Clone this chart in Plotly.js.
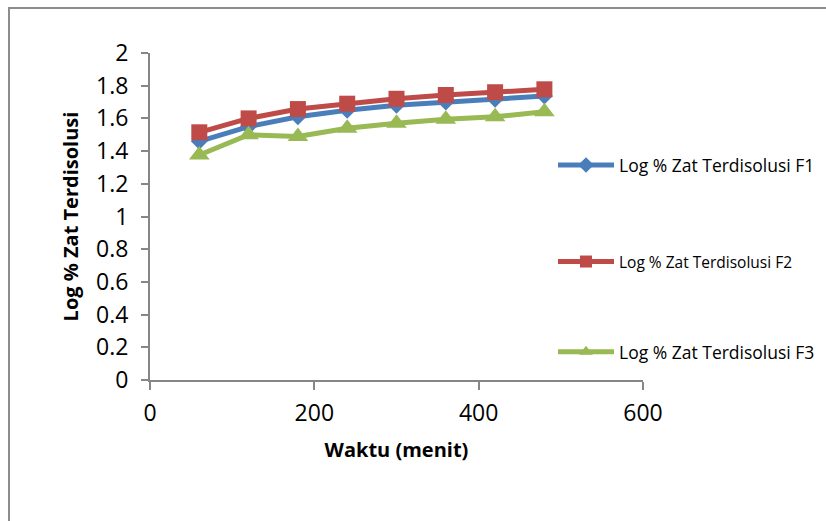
<!DOCTYPE html>
<html>
<head>
<meta charset="utf-8">
<script src="https://cdn.plot.ly/plotly-3.0.1.min.js"></script>
<style>
html,body{margin:0;padding:0;overflow:hidden;background:#fff;}
#wrap{position:relative;width:826px;height:521px;overflow:hidden;}
#chart{position:absolute;left:0;top:0;width:826px;height:521px;}
#frame{position:absolute;left:8px;top:7px;width:900px;height:600px;border:2px solid #8c8c8c;pointer-events:none;box-sizing:border-box;}
</style>
</head>
<body>
<div id="wrap"><div id="chart"></div><div id="frame"></div></div>
<script>
const waktu = [60, 120, 180, 240, 300, 360, 420, 480];
const logF1 = [1.46, 1.55, 1.61, 1.65, 1.68, 1.70, 1.717, 1.737];
const logF2 = [1.515, 1.60, 1.657, 1.69, 1.72, 1.743, 1.76, 1.778];
const logF3 = [1.376, 1.50, 1.49, 1.54, 1.57, 1.595, 1.61, 1.64];
const seriesNames = ["Log % Zat Terdisolusi F1", "Log % Zat Terdisolusi F2", "Log % Zat Terdisolusi F3"];
const xTicks = [0, 200, 400, 600];
const yTicks = [0, 0.2, 0.4, 0.6, 0.8, 1, 1.2, 1.4, 1.6, 1.8, 2];

const font = "Open Sans, Liberation Sans, sans-serif";
const traces = [
  {x: waktu, y: logF1, name: seriesNames[0], mode: "lines+markers", legend: "legend",
   line: {color: "#4A7EBB", width: 5}, marker: {symbol: "diamond", size: 13, color: "#4A7EBB"}},
  {x: waktu, y: logF2, name: seriesNames[1], mode: "lines+markers", legend: "legend2",
   line: {color: "#BE4B48", width: 5}, marker: {symbol: "square", size: 16, color: "#BE4B48"}},
  {x: waktu, y: logF3, name: seriesNames[2], mode: "lines+markers", legend: "legend3",
   line: {color: "#98B954", width: 5}, marker: {symbol: "triangle-up", size: 18, color: "#98B954"}}
];

const legBase = {xanchor: "left", yanchor: "middle", bgcolor: "rgba(0,0,0,0)", borderwidth: 0,
  itemsizing: "constant", tracegroupgap: 0, itemwidth: 56};
const legX = (553 - 150) / 493;

const layout = {
  width: 826, height: 521,
  margin: {l: 150, r: 183, t: 53, b: 141, autoexpand: false},
  paper_bgcolor: "#fff", plot_bgcolor: "#fff",
  showlegend: true,
  xaxis: {range: [0, 600], tickvals: xTicks, ticktext: xTicks.map(String),
    showgrid: false, zeroline: false, showline: true, linecolor: "#868686", linewidth: 2,
    ticks: "outside", ticklen: 8, tickwidth: 2, tickcolor: "#868686", ticklabelstandoff: 3,
    tickfont: {family: font, size: 23, color: "#000"},
    title: {text: "<b>Waktu (menit)</b>", font: {family: font, size: 20, color: "#000"}, standoff: 16}},
  yaxis: {range: [0, 2], tickvals: yTicks, ticktext: yTicks.map(String),
    showgrid: false, zeroline: false, showline: true, linecolor: "#868686", linewidth: 2,
    ticks: "outside", ticklen: 7, tickwidth: 2, tickcolor: "#868686", ticklabelstandoff: 8,
    tickfont: {family: font, size: 23, color: "#000"},
    title: {text: "<b>Log % Zat Terdisolusi</b>", font: {family: font, size: 20, color: "#000"}, standoff: 12}},
  legend: Object.assign({}, legBase, {x: legX, y: 0.657, font: {family: font, size: 17.5, color: "#000"}}),
  legend2: Object.assign({}, legBase, {x: legX, y: 0.361, font: {family: font, size: 15.5, color: "#000"}}),
  legend3: Object.assign({}, legBase, {x: legX, y: 0.086, font: {family: font, size: 17.5, color: "#000"}})
};

Plotly.newPlot("chart", traces, layout, {displayModeBar: false, staticPlot: true});
</script>
</body>
</html>
